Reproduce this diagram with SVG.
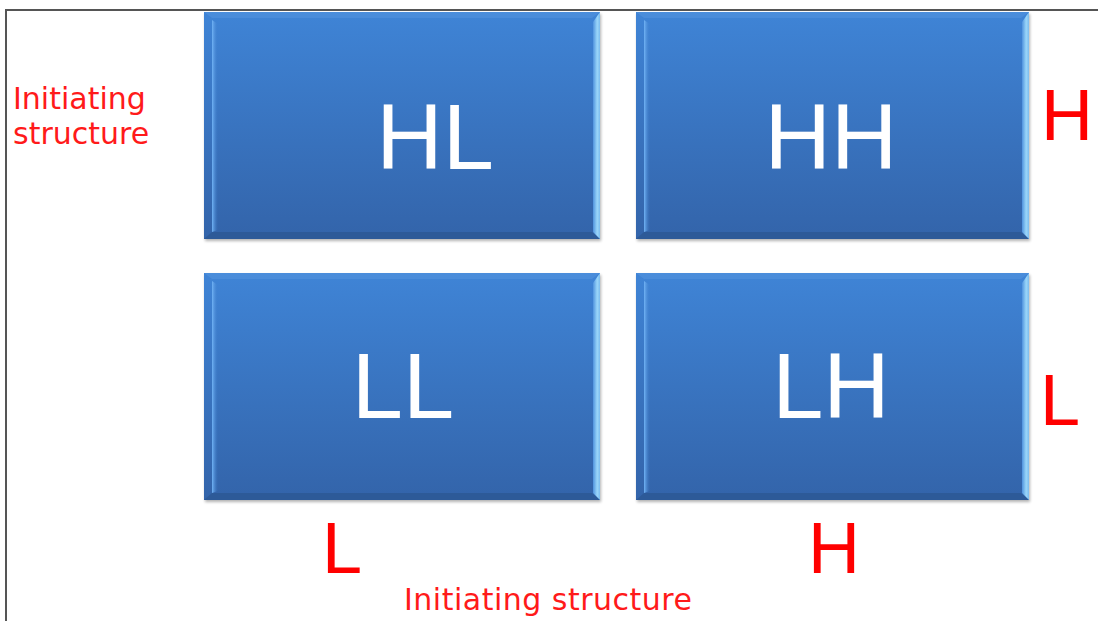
<svg xmlns="http://www.w3.org/2000/svg" width="1098" height="621" viewBox="0 0 1098 621">
  <defs>
    <linearGradient id="body" x1="0" y1="0" x2="0" y2="1">
      <stop offset="0" stop-color="#3f84d6"/>
      <stop offset="1" stop-color="#3364aa"/>
    </linearGradient>
    <linearGradient id="lhi" x1="0" y1="0" x2="1" y2="0">
      <stop offset="0" stop-color="#72b4f6"/>
      <stop offset="1" stop-color="#3f7ecb" stop-opacity="0"/>
    </linearGradient>
    <linearGradient id="rhi" x1="0" y1="0" x2="1" y2="0">
      <stop offset="0" stop-color="#4f92de"/>
      <stop offset="0.6" stop-color="#9ad6fa"/>
      <stop offset="1" stop-color="#7dbcee"/>
    </linearGradient>
    <filter id="sh" x="-5%" y="-5%" width="110%" height="115%">
      <feGaussianBlur stdDeviation="1.5"/>
    </filter>
  </defs>
  <style>
    .shadow { fill: #000; opacity: 0.3; filter: url(#sh); }
    .body { fill: url(#body); }
    .bot { fill: #2c5893; opacity: 0.8; }
    .lhi { fill: url(#lhi); }
    .rhi { fill: url(#rhi); }
    .top { fill: #5596e0; opacity: 0.5; }
    .lbl { font-family: "Liberation Sans", Arial, sans-serif; font-size: 92px; fill: #ffffff; text-anchor: middle; }
    .big { font-family: "Liberation Sans", Arial, sans-serif; font-size: 72px; fill: #ff0000; }
    .small { font-family: "DejaVu Sans", Verdana, sans-serif; font-size: 30px; fill: #ff1a1a; }
    .frame { stroke: #555; stroke-width: 2; fill: none; }
  </style>

  <rect x="0" y="0" width="1098" height="621" fill="#ffffff"/>
  <path class="frame" d="M6,621 V10 H1098"/>

  <g id="node-HL" transform="translate(204,12)">
    <rect class="shadow" x="1" y="2" width="396" height="227"/>
    <rect class="body" x="0" y="0" width="396" height="227"/>
    <polygon class="top" points="0,0 396,0 388,6 8,6"/>
    <polygon class="bot" points="0,227 8,220 388,220 396,227"/>
    <polygon class="lhi" points="8,8 14,12 14,218 8,220"/>
    <polygon class="rhi" points="389,10 396,0 396,227 389,220"/>
    <text class="lbl" x="231" y="157">HL</text>
  </g>

  <g id="node-HH" transform="translate(636,12)">
    <rect class="shadow" x="1" y="2" width="393" height="227"/>
    <rect class="body" x="0" y="0" width="393" height="227"/>
    <polygon class="top" points="0,0 393,0 385,6 8,6"/>
    <polygon class="bot" points="0,227 8,220 385,220 393,227"/>
    <polygon class="lhi" points="8,8 14,12 14,218 8,220"/>
    <polygon class="rhi" points="386,10 393,0 393,227 386,220"/>
    <text class="lbl" x="195" y="157">HH</text>
  </g>

  <g id="node-LL" transform="translate(204,273)">
    <rect class="shadow" x="1" y="2" width="396" height="227"/>
    <rect class="body" x="0" y="0" width="396" height="227"/>
    <polygon class="top" points="0,0 396,0 388,6 8,6"/>
    <polygon class="bot" points="0,227 8,220 388,220 396,227"/>
    <polygon class="lhi" points="8,8 14,12 14,218 8,220"/>
    <polygon class="rhi" points="389,10 396,0 396,227 389,220"/>
    <text class="lbl" x="199" y="145">LL</text>
  </g>

  <g id="node-LH" transform="translate(636,273)">
    <rect class="shadow" x="1" y="2" width="393" height="227"/>
    <rect class="body" x="0" y="0" width="393" height="227"/>
    <polygon class="top" points="0,0 393,0 385,6 8,6"/>
    <polygon class="bot" points="0,227 8,220 385,220 393,227"/>
    <polygon class="lhi" points="8,8 14,12 14,218 8,220"/>
    <polygon class="rhi" points="386,10 393,0 393,227 386,220"/>
    <text class="lbl" x="195" y="145">LH</text>
  </g>

  <g id="connectors"></g>

  <g id="axis-labels">
    <text class="small" x="13" y="109">Initiating</text>
    <text class="small" x="13" y="144">structure</text>
    <text class="small" x="404" y="610" textLength="288" lengthAdjust="spacing">Initiating structure</text>
    <text class="big" x="1067" y="140" text-anchor="middle">H</text>
    <text class="big" x="1040" y="425">L</text>
    <text class="big" x="322" y="573">L</text>
    <text class="big" x="834" y="573" text-anchor="middle">H</text>
  </g>
</svg>
